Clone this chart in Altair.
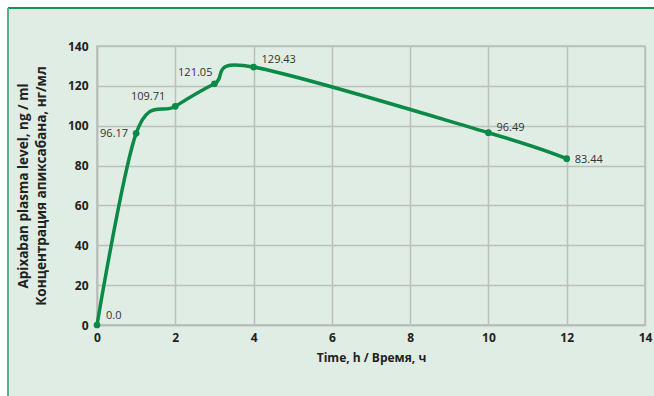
import altair as alt
import pandas as pd

time_h = [0, 1, 2, 3, 4, 10, 12]
conc = [0.0, 96.17, 109.71, 121.05, 129.43, 96.49, 83.44]
labels = ["0.0", "96.17", "109.71", "121.05", "129.43", "96.49", "83.44"]
x_ticks = [0, 2, 4, 6, 8, 10, 12, 14]
y_ticks = [0, 20, 40, 60, 80, 100, 120, 140]

df = pd.DataFrame({"t": time_h, "c": conc, "lab": labels})

W, H = 548, 279
FONT = "Open Sans"
GREEN = "#0b8a47"

x = alt.X("t:Q", scale=alt.Scale(domain=[0, 14], nice=False),
          axis=alt.Axis(values=x_ticks, title="Time, h / Время, ч", grid=True,
                        ticks=False, labelPadding=7, titlePadding=9,
                        labelFlush=False, labelOverlap=False, format="d"))
y = alt.Y("c:Q", scale=alt.Scale(domain=[0, 140], nice=False),
          axis=alt.Axis(values=y_ticks, grid=True, ticks=False, labelPadding=9,
                        labelFlush=False, labelOverlap=False, format="d",
                        title=["Apixaban plasma level, ng / ml",
                               "Концентрация апиксабана, нг/мл"],
                        titleFontSize=13.5, titleLineHeight=18, titlePadding=19))

# white outer margin (top and left) with green border lines
white_top = alt.Chart(df).mark_rect(fill="white").encode(
    x=alt.value(-97), x2=alt.value(W + 20), y=alt.value(-46), y2=alt.value(-38))
white_left = alt.Chart(df).mark_rect(fill="white").encode(
    x=alt.value(-97), x2=alt.value(-89), y=alt.value(-46), y2=alt.value(H + 80))
border_top = alt.Chart(df).mark_rule(color="#1a8f5c", strokeWidth=1.5).encode(
    x=alt.value(-89), x2=alt.value(W + 20), y=alt.value(-38))
border_left = alt.Chart(df).mark_rule(color="#4fb487", strokeWidth=1.5).encode(
    x=alt.value(-89), y=alt.value(-38), y2=alt.value(H + 80))

line = alt.Chart(df).mark_line(
    color=GREEN, strokeWidth=3.5, interpolate="cardinal"
).encode(x=x, y=y)

pts = alt.Chart(df).mark_circle(color=GREEN, size=45, opacity=1).encode(x=x, y=y)

def lbl(filter_vals, align, dx, dy):
    return alt.Chart(df).transform_filter(
        alt.FieldOneOfPredicate(field="t", oneOf=filter_vals)
    ).mark_text(align=align, baseline="middle", dx=dx, dy=dy, font=FONT,
                fontSize=11, color="#333333").encode(x=x, y=y, text="lab:N")

texts = [
    lbl([0], "left", 9, -9),
    lbl([1], "right", -8, 1),
    lbl([2], "right", -10, -9),
    lbl([3], "right", -2, -11),
    lbl([4], "left", 8, -7),
    lbl([10], "left", 8, -5),
    lbl([12], "left", 8, 1),
]

chart = alt.layer(line, pts, *texts, white_top, white_left, border_top, border_left).properties(
    width=W, height=H,
    autosize=alt.AutoSizeParams(type="none"),
    padding={"left": 97, "top": 46, "right": 9, "bottom": 71},
    background="#e0ede4",
).configure_view(stroke="#b8bcb9", strokeWidth=1.5).configure_axis(
    gridColor="#bcc0bd", gridWidth=1.5, domainColor="#b8bcb9", domainWidth=1.5,
    labelFont=FONT, labelFontSize=12, labelFontWeight="bold", labelColor="#222222",
    titleFont=FONT, titleFontSize=12, titleFontWeight="bold", titleColor="#222222",
)

chart.save("out.html", embed_options={"renderer": "svg", "actions": False})
